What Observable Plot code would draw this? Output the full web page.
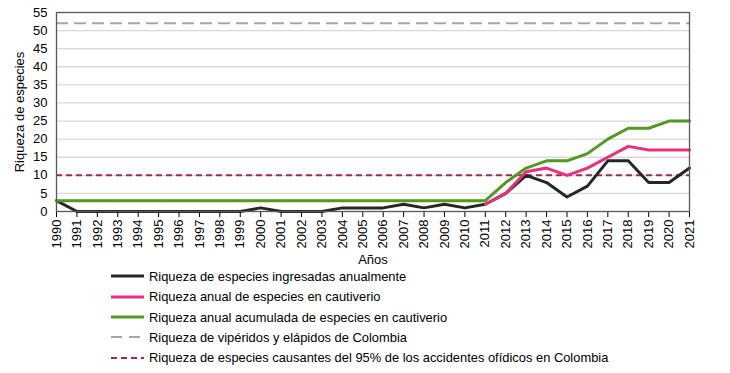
<!DOCTYPE html>
<html><head><meta charset="utf-8">
<script src="https://cdn.jsdelivr.net/npm/d3@7"></script>
<script src="https://cdn.jsdelivr.net/npm/@observablehq/plot@0.6"></script>
<style>
body{margin:0;background:#fff;font-family:"Liberation Sans",Arial,sans-serif;}
#wrap{position:relative;width:730px;height:373px;overflow:hidden;}
#wrap svg.plot{position:absolute;left:0;top:0;}
.row{position:absolute;left:111px;height:20px;display:flex;align-items:center;font-size:12.9px;color:#000;white-space:nowrap;}
.row svg{margin-right:5px;}
</style></head><body><div id="wrap"></div>
<script>
const years = d3.range(1990, 2022);
const ingresadas = [3,0,0,0,0,0,0,0,0,0,1,0,0,0,1,1,1,2,1,2,1,2,5,10,8,4,7,14,14,8,8,12];
const cautiverio = [null,null,null,null,null,null,null,null,null,null,null,null,null,null,null,null,null,null,null,null,null,2,5,11,12,10,12,15,18,17,17,17];
const acumulada = [3,3,3,3,3,3,3,3,3,3,3,3,3,3,3,3,3,3,3,3,3,3,8,12,14,14,16,20,23,23,25,25];
const riquezaColombia = 52;
const riqueza95 = 10;
const yTicks = d3.range(0, 56, 5);
const seriesNames = [
  "Riqueza de especies ingresadas anualmente",
  "Riqueza anual de especies en cautiverio",
  "Riqueza anual acumulada de especies en cautiverio",
  "Riqueza de vipéridos y elápidos de Colombia",
  "Riqueza de especies causantes del 95% de los accidentes ofídicos en Colombia"
];
const colors = ["#262626", "#ea2e7d", "#4f9a1f", "#a6a6a6", "#a0285a"];
const dashes = [null, null, null, "12,6", "6,4"];

const rows = years.map((year, i) => ({year, ingresadas: ingresadas[i], cautiverio: cautiverio[i], acumulada: acumulada[i]}));

const chart = Plot.plot({
  width: 730, height: 268,
  marginLeft: 56, marginRight: 41, marginTop: 12, marginBottom: 57,
  style: {fontFamily: "Liberation Sans, Arial, sans-serif", fontSize: "13px", color: "#000", background: "#fff"},
  x: {domain: [1990, 2021]},
  y: {domain: [0, 55]},
  marks: [
    Plot.gridY(yTicks.filter(d => d > 0 && d < 55), {stroke: "#d9d9d9", strokeOpacity: 1, strokeWidth: 1.3}),
    Plot.ruleY([riquezaColombia], {stroke: colors[3], strokeWidth: 2, strokeDasharray: dashes[3]}),
    Plot.ruleY([riqueza95], {stroke: colors[4], strokeWidth: 2, strokeDasharray: dashes[4]}),
    Plot.lineY(rows, {x: "year", y: "ingresadas", stroke: colors[0], strokeWidth: 3}),
    Plot.lineY(rows, {x: "year", y: "cautiverio", stroke: colors[1], strokeWidth: 3}),
    Plot.lineY(rows, {x: "year", y: "acumulada", stroke: colors[2], strokeWidth: 3}),
    Plot.axisY({ticks: yTicks, tickSize: 0, tickPadding: 9, label: "Riqueza de especies", labelAnchor: "center", labelOffset: 42, labelArrow: "none"}),
    Plot.axisX({ticks: years, tickFormat: d => String(d), tickRotate: -90, tickSize: 6, tickPadding: 2, label: "Años", labelAnchor: "center", labelOffset: 52, labelArrow: "none"}),
    Plot.frame({stroke: "#595959", strokeWidth: 1.3})
  ]
});
const wrap = document.getElementById("wrap");
wrap.appendChild(chart);

const rowTops = [266, 286.5, 307, 327, 347.5];
seriesNames.forEach((name, i) => {
  const row = document.createElement("div");
  row.className = "row";
  row.style.top = rowTops[i] + "px";
  const dash = dashes[i] ? ` stroke-dasharray="${dashes[i] === "12,6" ? "11,7" : "6,4"}"` : "";
  row.innerHTML = `<svg width="33" height="6"><line x1="0" x2="33" y1="3" y2="3" stroke="${colors[i]}" stroke-width="${dashes[i] ? 2 : 3}"${dash}/></svg><span>${name}</span>`;
  wrap.appendChild(row);
});
</script></body></html>
